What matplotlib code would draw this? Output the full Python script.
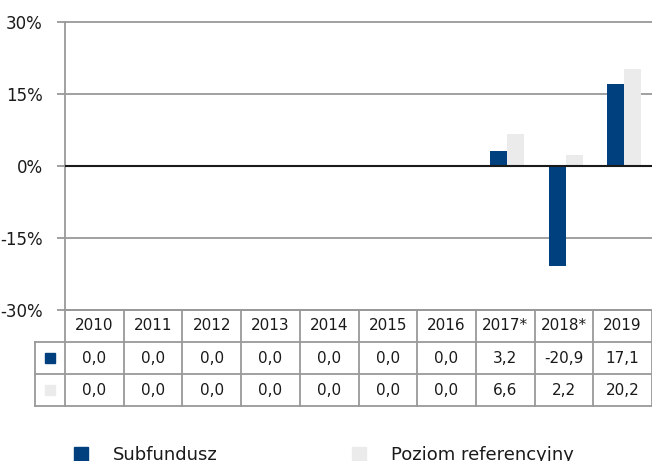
import numpy as np
import matplotlib.pyplot as plt
from matplotlib.patches import Rectangle

years = ['2010', '2011', '2012', '2013', '2014', '2015', '2016', '2017*', '2018*', '2019']
subfundusz = [0.0, 0.0, 0.0, 0.0, 0.0, 0.0, 0.0, 3.2, -20.9, 17.1]
poziom_ref = [0.0, 0.0, 0.0, 0.0, 0.0, 0.0, 0.0, 6.6, 2.2, 20.2]
series_names = ['Subfundusz', 'Poziom referencyjny']
y_ticks = [-30, -15, 0, 15, 30]

blue = '#00407e'
light = '#ebebeb'
grid_c = '#999999'

W, H = 652, 461
fig = plt.figure(figsize=(W / 100, H / 100), dpi=100)

def frac(x0, y0, x1, y1):
    return [x0 / W, (H - y1) / H, (x1 - x0) / W, (y1 - y0) / H]

# bar plot
ax = fig.add_axes(frac(65, 22, 652, 310))
x = np.arange(len(years)) + 0.03
bw = 0.29
ax.bar(x - bw / 2, subfundusz, bw, color=blue, zorder=3)
ax.bar(x + bw / 2, poziom_ref, bw, color=light, zorder=3)
ax.set_xlim(-0.5, len(years) - 0.5)
ax.set_ylim(-30, 30)
ax.set_yticks(y_ticks)
ax.set_yticklabels([f'{t}%' for t in y_ticks], fontsize=12, color='#1a1a1a')
ax.set_xticks([])
for t in y_ticks:
    if t != 0:
        ax.axhline(t, color=grid_c, lw=1.3, zorder=1, clip_on=False)
ax.axhline(0, color='#1a1a1a', lw=1.5, zorder=4)
for s in ['top', 'right', 'bottom']:
    ax.spines[s].set_visible(False)
ax.spines['left'].set_color(grid_c)
ax.spines['left'].set_linewidth(1.3)
ax.tick_params(axis='y', length=6, width=1.3, color=grid_c, pad=10)

# data table under the chart
key_w = 30 / 58.7
tx = fig.add_axes(frac(35, 310, 652, 406))
tx.set_xlim(-0.5 - key_w, len(years) - 0.5)
tx.set_ylim(3, 0)
tx.axis('off')
lc = dict(color=grid_c, lw=1.3, clip_on=False)
tx.plot([-0.5, len(years) - 0.5], [0, 0], **lc)
for r in [1, 2, 3]:
    tx.plot([-0.5 - key_w, len(years) - 0.5], [r, r], **lc)
tx.plot([-0.5 - key_w, -0.5 - key_w], [1, 3], **lc)
for k in range(len(years) + 1):
    tx.plot([k - 0.5, k - 0.5], [0, 3], **lc)
for i, yr in enumerate(years):
    tx.text(i, 0.5, yr, ha='center', va='center', fontsize=11, color='#1a1a1a')
    tx.text(i, 1.5, f'{subfundusz[i]:.1f}'.replace('.', ','), ha='center', va='center',
            fontsize=11, color='#1a1a1a')
    tx.text(i, 2.5, f'{poziom_ref[i]:.1f}'.replace('.', ','), ha='center', va='center',
            fontsize=11, color='#1a1a1a')
kc = -0.5 - key_w / 2
ks = 11 / 58.7
for r, c in zip([1.5, 2.5], [blue, light]):
    tx.add_patch(Rectangle((kc - ks / 2, r - 0.17), ks, 0.34, color=c))

# legend (cut at the bottom edge, as in the original)
for x0, c, name in [(74, blue, series_names[0]), (352, light, series_names[1])]:
    fig.patches.append(Rectangle((x0 / W, (H - 462) / H), 14 / W, 15 / H,
                                 transform=fig.transFigure, color=c))
    fig.text((x0 + 39) / W, (H - 460) / H, name, fontsize=13, color='#1a1a1a',
             va='baseline', ha='left')

fig.savefig('out.png', dpi=100)
